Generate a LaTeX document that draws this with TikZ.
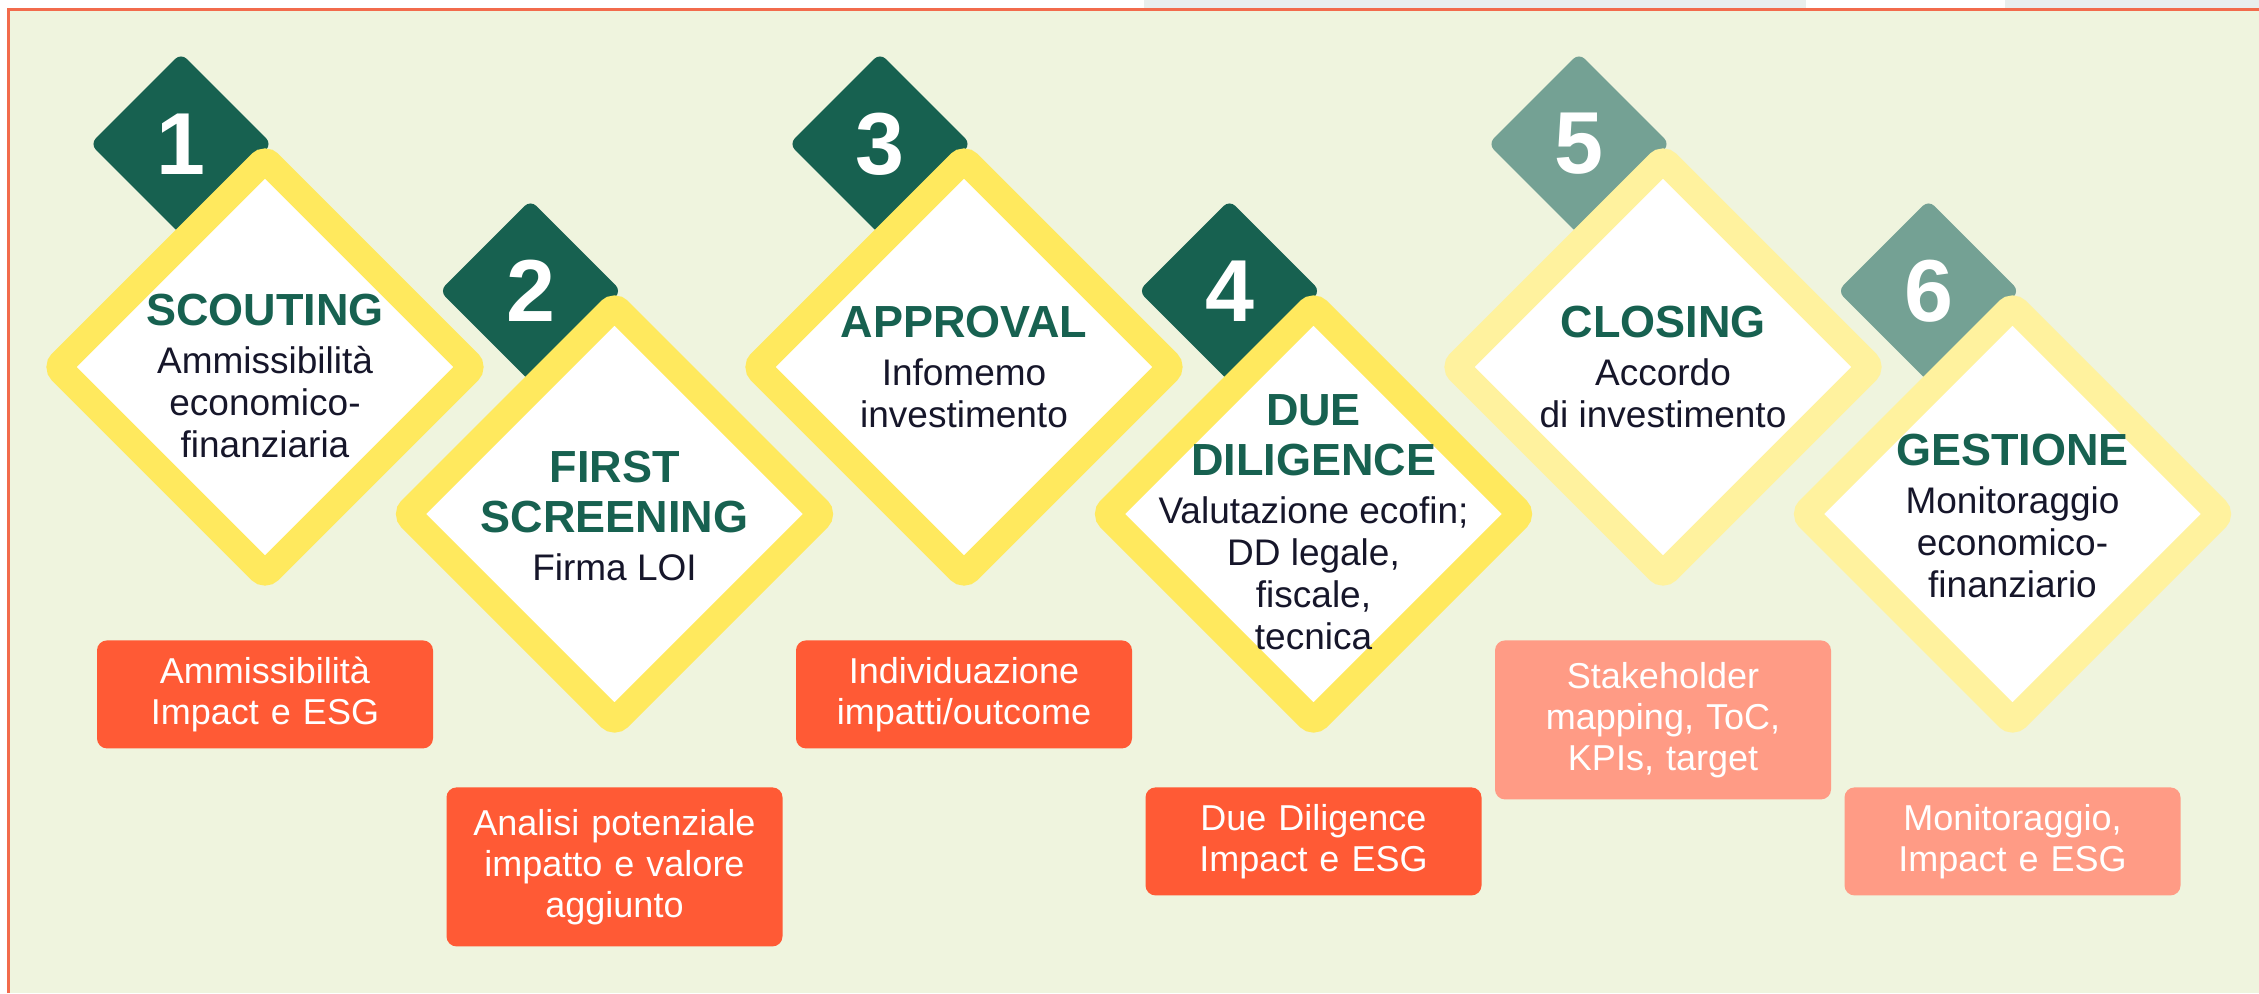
\documentclass[tikz,border=0pt]{standalone}
\usepackage{fontspec}
\setmainfont{Liberation Sans}
\usepackage{xcolor}
\usetikzlibrary{shapes.geometric, positioning, backgrounds}
\definecolor{pageCream}{HTML}{EFF4DE}
\definecolor{tabGrey}{HTML}{E9EFEE}
\definecolor{frameRed}{HTML}{F26B4C}
\definecolor{stepGreen}{HTML}{176150}
\definecolor{stepGreenLight}{HTML}{74A194}
\definecolor{rimYellow}{HTML}{FFE95E}
\definecolor{rimYellowLight}{HTML}{FFF29E}
\definecolor{impactOrange}{HTML}{FF5A35}
\definecolor{impactSalmon}{HTML}{FF9B85}
\definecolor{bodyInk}{HTML}{16162A}
\newcommand{\phasetitle}{\bfseries\color{stepGreen}\fontsize{22.5pt}{25pt}\selectfont}
\tikzstyle{phase} = [shape=diamond, aspect=1, inner sep=0pt, minimum size=213pt,
   draw=rimYellow, line width=13.5pt, fill=white, rounded corners=3pt]
\tikzstyle{phaseLight} = [phase, draw=rimYellowLight]
\tikzstyle{badge} = [shape=diamond, aspect=1, inner sep=0pt, minimum size=91pt,
   fill=stepGreen, rounded corners=4pt, text=white,
   font=\bfseries\fontsize{44pt}{44pt}\selectfont]
\tikzstyle{badgeLight} = [badge, fill=stepGreenLight]
\tikzstyle{phaseText} = [align=center, text=bodyInk, font=\fontsize{18.5pt}{21pt}\selectfont]
\tikzstyle{impact} = [fill=impactOrange, text=white, rounded corners=5pt, inner sep=0pt,
   text width=168pt, minimum height=54pt, align=center, font=\fontsize{18pt}{20.5pt}\selectfont]
\tikzstyle{impactTall} = [impact, minimum height=79.5pt]
\tikzstyle{impactLight} = [impact, fill=impactSalmon]
\tikzstyle{impactLightTall} = [impactLight, minimum height=79.5pt]
\begin{document}
\begin{tikzpicture}
  \useasboundingbox (0,0) rectangle (1129.5pt,-496.5pt);
  % page: white strip, grey tabs, cream panel with red frame
  \begin{scope}[on background layer]
    \fill[white] (0,0) rectangle (1129.5pt,-496.5pt);
    \fill[tabGrey] (572pt,0) rectangle (903pt,-4.5pt);
    \fill[tabGrey] (1002.5pt,0) rectangle (1129.5pt,-4.5pt);
    \fill[pageCream] (4.25pt,-4.85pt) rectangle (1129.5pt,-496.5pt);
    \draw[frameRed, line width=1.25pt] (4.25pt,-496.5pt) |- (1129.5pt,-4.85pt);
  \end{scope}

  % phases
  \node[phase] (d1) at (132.5pt,-183.5pt) {};
  \node[phase, on grid, below right=73.5pt and 174.75pt of d1] (d2) {};
  \node[phase, on grid, above right=73.5pt and 174.75pt of d2] (d3) {};
  \node[phase, on grid, below right=73.5pt and 174.75pt of d3] (d4) {};
  \node[phaseLight, on grid, above right=73.5pt and 174.75pt of d4] (d5) {};
  \node[phaseLight, on grid, below right=73.5pt and 174.75pt of d5] (d6) {};

  % number badges, tucked behind the phases
  \begin{scope}[on background layer]
    \node[badge, on grid, above left=111.5pt and 42pt of d1] (n1) {1};
    \node[badge, on grid, above left=111.5pt and 42pt of d2] (n2) {2};
    \node[badge, on grid, above left=111.5pt and 42pt of d3] (n3) {3};
    \node[badge, on grid, above left=111.5pt and 42pt of d4] (n4) {4};
    \node[badgeLight, on grid, above left=111.5pt and 42pt of d5] (n5) {5};
    \node[badgeLight, on grid, above left=111.5pt and 42pt of d6] (n6) {6};
  \end{scope}

  % texts inside the phases
  \node[phaseText, yshift=-4.5pt] (t1) at (d1) {{\phasetitle SCOUTING}\\[2.75pt] Ammissibilità\\ economico-\\ finanziaria};
  \node[phaseText, yshift=-1pt] (t2) at (d2) {{\phasetitle FIRST}\\[4pt] {\phasetitle SCREENING}\\[2.75pt] Firma LOI};
  \node[phaseText] (t3) at (d3) {{\phasetitle APPROVAL}\\[2.75pt] Infomemo\\ investimento};
  \node[phaseText, yshift=-4pt] (t4) at (d4) {{\phasetitle DUE}\\[4pt] {\phasetitle DILIGENCE}\\[2.75pt] Valutazione ecofin;\\ DD legale,\\ fiscale,\\ tecnica};
  \node[phaseText] (t5) at (d5) {{\phasetitle CLOSING}\\[2.75pt] Accordo\\ di investimento};
  \node[phaseText, yshift=-1pt] (t6) at (d6) {{\phasetitle GESTIONE}\\[2.75pt] Monitoraggio\\ economico-\\ finanziario};

  % impact & ESG boxes
  \node[impact, below=136.5pt of d1.center] (b1) {Ammissibilità\\ Impact e ESG};
  \node[impactTall, below=136.5pt of d2.center] (b2) {Analisi potenziale\\ impatto e valore\\ aggiunto};
  \node[impact, below=136.5pt of d3.center] (b3) {Individuazione\\ impatti/outcome};
  \node[impact, below=136.5pt of d4.center] (b4) {Due Diligence\\ Impact e ESG};
  \node[impactLightTall, below=136.5pt of d5.center] (b5) {Stakeholder\\ mapping, ToC,\\ KPIs, target};
  \node[impactLight, below=136.5pt of d6.center] (b6) {Monitoraggio,\\ Impact e ESG};
\end{tikzpicture}
\end{document}
